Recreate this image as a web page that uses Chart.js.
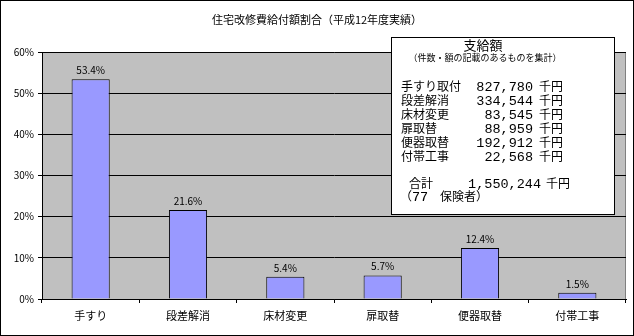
<!DOCTYPE html>
<html>
<head>
<meta charset="utf-8">
<script src="https://cdn.jsdelivr.net/npm/chart.js@4/dist/chart.umd.min.js"></script>
<style>
  html, body { margin: 0; padding: 0; background: #fff; }
  #wrap { width: 634px; height: 336px; position: relative; }
</style>
</head>
<body>
<div id="wrap"><canvas id="chart" width="634" height="336"></canvas></div>
<script>
// Chart data
const categories = ['手すり', '段差解消', '床材変更', '扉取替', '便器取替', '付帯工事'];
const shares = [53.4, 21.6, 5.4, 5.7, 12.4, 1.5];
const yTicks = [0, 10, 20, 30, 40, 50, 60];

// Text box data
const tableLabels = ['手すり取付', '段差解消', '床材変更', '扉取替', '便器取替', '付帯工事'];
const tableAmounts = ['827,780', '334,544', '83,545', '88,959', '192,912', '22,568'];
const totalAmount = '1,550,244';
const insurerCount = '77';

const jpFont = '"Noto Sans CJK JP", "Noto Sans", sans-serif';
const numFont = '"Liberation Mono", "DejaVu Sans Mono", monospace';

// background, frame, title, value labels and the text box
const decorations = {
    id: 'decorations',
    beforeDraw(chart) {
        const ctx = chart.ctx;
        const a = chart.chartArea;
        ctx.save();
        ctx.fillStyle = '#ffffff';
        ctx.fillRect(0, 0, chart.width, chart.height);
        ctx.fillStyle = '#c0c0c0';
        ctx.fillRect(a.left, a.top, a.right - a.left, a.bottom - a.top);
        ctx.strokeStyle = '#808080';
        ctx.lineWidth = 1;
        ctx.strokeRect(a.left + 0.5, a.top + 0.5, a.right - a.left - 1, a.bottom - a.top);
        ctx.restore();
    },
    afterDraw(chart) {
        const ctx = chart.ctx;
        ctx.save();
        // outer frame
        ctx.strokeStyle = '#000';
        ctx.lineWidth = 1;
        ctx.strokeRect(0.5, 0.5, chart.width - 1, chart.height - 1);

        // title
        ctx.fillStyle = '#000';
        ctx.font = '11px ' + jpFont;
        ctx.textAlign = 'center';
        ctx.textBaseline = 'middle';
        ctx.fillText('住宅改修費給付額割合（平成12年度実績）', 317, 20);

        // value labels above bars
        ctx.font = '10px ' + jpFont;
        ctx.textBaseline = 'bottom';
        chart.getDatasetMeta(0).data.forEach((bar, i) => {
            ctx.fillText(shares[i].toFixed(1) + '%', bar.x, bar.y - 4);
        });

        // text box
        const bx = 391, by = 37, bw = 223, bh = 177;
        ctx.fillStyle = '#fff';
        ctx.fillRect(bx, by, bw, bh);
        ctx.strokeStyle = '#000';
        ctx.strokeRect(bx + 0.5, by + 0.5, bw, bh);

        ctx.fillStyle = '#000';
        ctx.textBaseline = 'middle';
        ctx.textAlign = 'center';
        ctx.font = '13px ' + jpFont;
        ctx.fillText('支給額', 483, 45);
        ctx.font = '9px ' + jpFont;
        ctx.fillText('（件数・額の記載のあるものを集計）', 485, 58);

        tableLabels.forEach((lab, i) => {
            const y = 86 + i * 14;
            ctx.font = '12px ' + jpFont;
            ctx.textAlign = 'left';
            ctx.fillText(lab, 401, y);
            ctx.fillText('千円', 539, y);
            ctx.font = '13.5px ' + numFont;
            ctx.textAlign = 'right';
            ctx.fillText(tableAmounts[i], 533, y + 1);
        });
        ctx.font = '12px ' + jpFont;
        ctx.textAlign = 'left';
        ctx.fillText('合計', 409, 183);
        ctx.fillText('千円', 546, 183);
        ctx.fillText('（', 400, 196);
        ctx.fillText('保険者）', 440, 196);
        ctx.font = '13.5px ' + numFont;
        ctx.fillText(insurerCount, 412, 197);
        ctx.textAlign = 'right';
        ctx.fillText(totalAmount, 541, 184);
        ctx.restore();
    }
};

new Chart(document.getElementById('chart'), {
    type: 'bar',
    data: {
        labels: categories,
        datasets: [{
            data: shares,
            backgroundColor: '#9999ff',
            borderColor: '#000000',
            borderWidth: 1,
            categoryPercentage: 0.8,
            barPercentage: 0.49
        }]
    },
    options: {
        responsive: false,
        animation: false,
        layout: { padding: { top: 52, right: 8, left: 0, bottom: 0 } },
        plugins: {
            legend: { display: false },
            tooltip: { enabled: false },
            title: { display: false }
        },
        scales: {
            x: {
                afterFit(scale) { scale.height = 37; },
                grid: {
                    offset: true,
                    drawOnChartArea: false,
                    color: '#000',
                    tickLength: 4
                },
                border: { color: '#000' },
                ticks: {
                    color: '#000',
                    font: { size: 11, family: jpFont },
                    padding: 6,
                    maxRotation: 0
                }
            },
            y: {
                min: 0,
                max: 60,
                afterFit(scale) { scale.width = 42; },
                afterBuildTicks(scale) {
                    scale.ticks = yTicks.map(v => ({ value: v }));
                },
                grid: { color: '#000', tickLength: 4 },
                border: { color: '#000' },
                ticks: {
                    color: '#000',
                    font: { size: 10, family: jpFont },
                    padding: 4,
                    callback: v => v + '%'
                }
            }
        }
    },
    plugins: [decorations]
});
</script>
</body>
</html>
